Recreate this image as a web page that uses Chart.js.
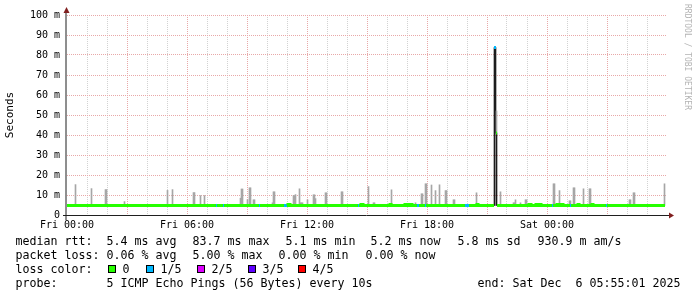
<!DOCTYPE html>
<html><head><meta charset="utf-8">
<script src="https://cdn.jsdelivr.net/npm/chart.js@4.4.0/dist/chart.umd.min.js"></script>
<style>
html,body{margin:0;padding:0;background:#fff;}
#wrap{position:relative;width:697px;height:297px;overflow:hidden;background:#fff;}
#c{position:absolute;left:0;top:0;}
.t{position:absolute;font-family:"DejaVu Sans Mono",monospace;font-size:11.63px;line-height:14px;white-space:pre;color:#000;}
.box{position:absolute;width:6px;height:6px;border:1px solid #000;}
#wm{position:absolute;left:682px;top:4px;writing-mode:vertical-rl;font-family:"DejaVu Sans Mono",monospace;font-size:8px;line-height:10px;color:#b4b4b4;white-space:pre;}
</style></head>
<body><div id="wrap"><canvas id="c" width="697" height="297"></canvas><div id="legend"></div><div id="wm">RRDTOOL / TOBI OETIKER</div></div>
<script>
// ---- data (time = minutes since Fri 00:00, 3-minute samples; values in ms) ----
const dayLabels = ['Fri 00:00','Fri 06:00','Fri 12:00','Fri 18:00','Sat 00:00'];
const yTickLabels = ['0','10 m','20 m','30 m','40 m','50 m','60 m','70 m','80 m','90 m','100 m'];
const lossLabels = ['0','1/5','2/5','3/5','4/5'];
const lossColors = ['#26ff00','#00b8ff','#dd00ff','#5e00ff','#ff0000'];

// median rtt runs: start minute, value, loss level (index into lossLabels)
const medStart = [0,447,450,468,471,576,579,651,660,663,669,873,876,882,888,969,972,1014,1020,1029,1035,1050,1056,1074,1077,1194,1206,1230,1233,1281,1287,1290,1386,1392,1407,1413,1419,1422,1455,1458,1470,1476,1485,1488,1509,1512,1533,1536,1575,1578,1617,1620];
const medValue = [4.75,4.75,4.75,4.75,4.75,4.75,4.75,4.75,4.75,5.25,4.75,4.75,4.75,5.25,4.75,5.25,4.75,5.25,4.75,5.25,4.75,4.75,4.75,4.75,4.75,4.75,4.75,5.25,4.75,83.7,41,4.75,5.25,4.75,5.25,4.75,5.25,4.75,4.75,4.75,5.25,4.75,5.25,4.75,4.75,4.75,5.25,4.75,5.25,4.75,4.75,4.75];
const medLoss  = [0,1,0,1,0,1,0,1,0,0,0,1,0,0,0,0,0,0,0,0,0,1,0,1,0,1,0,0,0,1,0,0,0,0,0,0,0,0,1,0,0,0,0,0,1,0,0,0,0,0,1,0];
const medEnd = 1794;

// smoke (ping spread) per sample
const smokeTime = [24,72,114,117,171,300,315,378,381,399,411,519,522,525,540,546,549,558,561,615,618,621,678,681,684,696,699,702,705,720,738,741,744,774,777,822,825,903,918,921,972,1044,1062,1065,1074,1077,1092,1104,1116,1134,1137,1158,1161,1227,1287,1299,1338,1341,1344,1359,1374,1377,1458,1461,1476,1506,1509,1518,1521,1548,1566,1569,1686,1689,1698,1701,1791];
const smokeLow  = [4.75,4.75,4.75,4.75,4.75,4.75,4.75,4.75,4.75,4.75,4.75,4.75,4.75,4.75,4.75,4.75,4.75,4.75,4.75,4.75,4.75,4.75,4.75,4.75,4.75,4.75,4.75,4.75,4.75,4.75,4.75,4.75,4.75,4.75,4.75,4.75,4.75,4.75,4.75,4.75,4.75,4.75,4.75,4.75,4.75,4.75,4.75,4.75,4.75,4.75,4.75,4.75,4.75,4.75,41,4.75,4.75,4.75,4.75,4.75,4.75,4.75,4.75,4.75,4.75,4.75,4.75,4.75,4.75,4.75,4.75,4.75,4.75,4.75,4.75,4.75,4.75];
const smokeHigh = [15.2,13.2,12.7,12.7,6.7,12.3,12.7,11.2,11.2,9.7,9.7,8.4,13.0,13.0,7.7,13.6,13.6,7.6,7.6,6.1,11.6,11.6,9.7,9.7,10.2,13.1,6.1,6.1,6.1,7.6,10.1,10.1,8.2,11.1,11.1,11.6,11.6,14.2,6.1,6.1,12.6,6.1,10.6,10.6,15.6,15.6,15.0,12.2,15.1,12.2,12.2,7.6,7.6,11.1,52,11.6,6.1,6.1,7.6,6.1,7.6,7.6,15.6,15.6,12.2,7.1,7.1,13.6,13.6,13.1,13.1,13.1,7.6,7.6,11.1,11.1,15.6];

// dense smoke (all pings in range) at the latency spike
const denseTime = [1281,1284,1287];
const denseLow  = [4.75,41,4.75];
const denseHigh = [83.7,83.7,41];

const sampleStep = 3;

// ---- build datasets ----
const medPts = [], medPtLoss = [];
for (let i = 0; i < medStart.length; i++) {
  const s = medStart[i], e = i + 1 < medStart.length ? medStart[i + 1] : medEnd, v = medValue[i];
  if (i > 0 && Math.abs(v - medValue[i - 1]) > 2) { medPts.push({x: s, y: null}); medPtLoss.push(0); }
  medPts.push({x: s, y: v}); medPtLoss.push(medLoss[i]);
  medPts.push({x: e, y: v}); medPtLoss.push(medLoss[i]);
}
const smokePts = smokeTime.map((t, i) => ({x: t + sampleStep / 2, y: [smokeLow[i], smokeHigh[i]]}));
const densePts = denseTime.map((t, i) => ({x: t + sampleStep / 2, y: [denseLow[i], denseHigh[i]]}));

const FONT = 'DejaVu Sans Mono';
Chart.defaults.font.family = FONT;

const rrdAxes = {
  id: 'rrdAxes',
  afterDraw(chart) {
    const {ctx, chartArea: a} = chart;
    ctx.save();
    ctx.strokeStyle = '#1f1f1f';
    ctx.lineWidth = 1;
    ctx.beginPath(); ctx.moveTo(a.left - 4, a.bottom + 0.5); ctx.lineTo(a.right + 3, a.bottom + 0.5); ctx.stroke();
    ctx.beginPath(); ctx.moveTo(a.left - 1, a.bottom + 5); ctx.lineTo(a.left - 1, a.top - 3); ctx.stroke();
    ctx.fillStyle = '#801f1f';
    ctx.beginPath(); ctx.moveTo(a.left - 0.5, a.top - 8); ctx.lineTo(a.left - 3.5, a.top - 2); ctx.lineTo(a.left + 2.5, a.top - 2); ctx.closePath(); ctx.fill();
    ctx.beginPath(); ctx.moveTo(a.right + 7, a.bottom + 0.5); ctx.lineTo(a.right + 2, a.bottom - 2.5); ctx.lineTo(a.right + 2, a.bottom + 3.5); ctx.closePath(); ctx.fill();
    ctx.restore();
  }
};

const minorGrid = '#d2d2d2';
const majorGrid = '#e8a8a8';

new Chart(document.getElementById('c'), {
  type: 'bar',
  data: {
    datasets: [
      {type: 'line', label: 'median rtt', data: medPts, order: 0, borderWidth: 3, pointRadius: 0, tension: 0,
       borderCapStyle: 'butt', borderJoinStyle: 'miter', spanGaps: false, borderColor: lossColors[0],
       segment: {borderColor: c => lossColors[medPtLoss[c.p0DataIndex]]}},
      {type: 'bar', label: 'smoke', data: smokePts, order: 1, grouped: false, barThickness: 1,
       backgroundColor: '#a6a6a6', borderWidth: 0, borderSkipped: false},
      {type: 'bar', label: 'dense', data: densePts, order: 2, grouped: false, barThickness: 1,
       backgroundColor: '#1c1c1c', borderWidth: 0, borderSkipped: false}
    ]
  },
  options: {
    responsive: false, animation: false, devicePixelRatio: 1,
    layout: {padding: {left: 0, top: 15, right: 30, bottom: 62}},
    plugins: {legend: {display: false}, tooltip: {enabled: false}},
    scales: {
      x: {
        type: 'linear', min: 0, max: 1800, offset: false,
        afterBuildTicks: s => { const t = []; for (let m = 0; m < 1800; m += 60) t.push({value: m}); s.ticks = t; },
        afterFit: s => { s.height = 20; },
        grid: {offset: false, drawTicks: false, lineWidth: 1,
               color: c => c.tick.value === 0 ? 'rgba(0,0,0,0)' : (c.tick.value % 180 === 0 ? majorGrid : minorGrid)},
        border: {display: false, dash: [1, 1]},
        ticks: {autoSkip: false, maxRotation: 0, minRotation: 0, padding: 4, color: '#000',
                font: {family: FONT, size: 10},
                callback: v => v % 360 === 0 ? dayLabels[v / 360] : ''}
      },
      y: {
        type: 'linear', min: 0, max: 100,
        afterBuildTicks: s => { const t = []; for (let v = 0; v <= 100; v += 5) t.push({value: v}); s.ticks = t; },
        afterFit: s => { s.width = 67; },
        grid: {drawTicks: false, lineWidth: 1,
               color: c => c.tick.value === 0 ? 'rgba(0,0,0,0)' : (c.tick.value % 10 === 0 ? majorGrid : minorGrid)},
        border: {display: false, dash: [1, 1]},
        ticks: {padding: 7, color: '#000', font: {family: FONT, size: 10},
                callback: v => v % 10 === 0 ? yTickLabels[v / 10] : ''},
        title: {display: true, text: 'Seconds', color: '#000', font: {family: FONT, size: 11}, padding: {top: 4, bottom: 0}}
      }
    }
  },
  plugins: [rrdAxes]
});

// ---- legend (real text) ----
const legendItems = [
  [16, 234, 'median rtt:'], [107, 234, '5.4 ms avg'], [193, 234, '83.7 ms max'], [286, 234, '5.1 ms min'],
  [371, 234, '5.2 ms now'], [458, 234, '5.8 ms sd'], [538, 234, '930.9 m am/s'],
  [16, 248, 'packet loss:'], [107, 248, '0.06 % avg'], [193, 248, '5.00 % max'], [279, 248, '0.00 % min'], [366, 248, '0.00 % now'],
  [16, 262, 'loss color:'],
  [16, 276, 'probe:'], [107, 276, '5 ICMP Echo Pings (56 Bytes) every 10s'], [478, 276, 'end: Sat Dec  6 05:55:01 2025']
];
const boxLeft = [108, 146, 197, 248, 298];
const lg = document.getElementById('legend');
legendItems.forEach(([x, y, s]) => {
  const d = document.createElement('div'); d.className = 't'; d.style.left = (x - 0.5) + 'px'; d.style.top = y + 'px'; d.textContent = s; lg.appendChild(d);
});
lossLabels.forEach((s, i) => {
  const b = document.createElement('div'); b.className = 'box'; b.style.left = boxLeft[i] + 'px'; b.style.top = '265px'; b.style.background = lossColors[i]; lg.appendChild(b);
  const d = document.createElement('div'); d.className = 't'; d.style.left = (boxLeft[i] + 14.5) + 'px'; d.style.top = '262px'; d.textContent = s; lg.appendChild(d);
});
</script>
</body></html>
